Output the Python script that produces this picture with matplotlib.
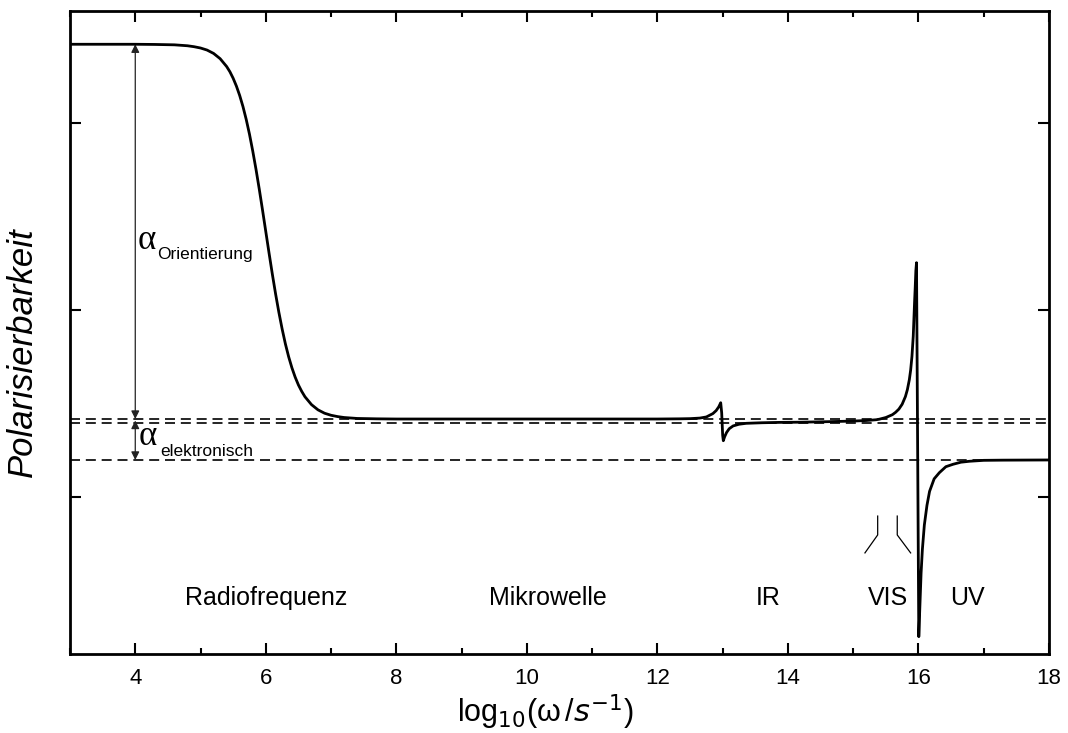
import matplotlib
matplotlib.use("Agg")
import matplotlib.pyplot as plt
from matplotlib.ticker import MultipleLocator

plt.rcParams['font.family'] = ['Liberation Sans', 'DejaVu Sans']

# Polarisability vs. log10 of angular frequency
log_omega = [3.0, 4.0, 4.3, 4.6, 4.8, 4.9, 5.0, 5.1, 5.2, 5.3, 5.4, 5.45,
             5.5, 5.55, 5.6, 5.65, 5.7, 5.75, 5.8, 5.85, 5.9, 5.95, 6.0,
             6.05, 6.1, 6.15, 6.2, 6.25, 6.3, 6.35, 6.4, 6.45, 6.5, 6.55,
             6.6, 6.7, 6.8, 6.9, 7.0, 7.1, 7.2, 7.4, 7.7, 8.0,
             10.0, 12.0, 12.34, 12.5, 12.65, 12.75, 12.85, 12.9, 12.94,
             12.97, 12.985, 13.0, 13.01, 13.03, 13.06, 13.1, 13.16, 13.25,
             13.36, 13.6, 13.87, 14.2, 14.64, 15.0, 15.2, 15.35, 15.4, 15.5,
             15.6, 15.65, 15.7, 15.75, 15.8, 15.83, 15.86, 15.88, 15.9,
             15.92, 15.94, 15.95, 15.96, 15.97,
             16.005, 16.02, 16.04, 16.06, 16.09, 16.13, 16.17, 16.24, 16.32,
             16.42, 16.53, 16.65, 16.78, 17.0, 17.29, 18.0]
polarisability = [3.421, 3.421, 3.420, 3.418, 3.413, 3.408, 3.401, 3.390,
                  3.372, 3.344, 3.302, 3.274, 3.239, 3.197, 3.147, 3.088,
                  3.019, 2.940, 2.850, 2.752, 2.646, 2.534, 2.419,
                  2.304, 2.192, 2.086, 1.988, 1.899, 1.819, 1.750, 1.691,
                  1.641, 1.599, 1.565, 1.536, 1.494, 1.466, 1.448, 1.437,
                  1.430, 1.425, 1.420, 1.418, 1.417,
                  1.417, 1.417, 1.418, 1.419, 1.422, 1.428, 1.446, 1.462,
                  1.482, 1.504, 1.450, 1.330, 1.301, 1.322, 1.345, 1.365,
                  1.380, 1.389, 1.394, 1.397, 1.399, 1.400, 1.403, 1.406,
                  1.409, 1.413, 1.416, 1.425, 1.440, 1.453, 1.470, 1.496,
                  1.537, 1.574, 1.627, 1.678, 1.751, 1.860, 2.040, 2.120,
                  2.210, 2.253,
                  0.253, 0.400, 0.592, 0.720, 0.850, 0.955, 1.030, 1.097,
                  1.130, 1.162, 1.175, 1.186, 1.191, 1.196, 1.197, 1.198]

# Reference levels (dashed)
levels = [1.417, 1.397, 1.198]

# Arrow spans for the two contributions
arrow_x = 4.0
orient_span = (3.421, 1.417)
elec_span = (1.409, 1.198)

# Spectral region labels
regions = ["Radiofrequenz", "Mikrowelle", "IR", "VIS", "UV"]
region_x = [6.0, 10.32, 13.69, 15.53, 16.75]
region_y = 0.46

# VIS bracket strokes
vis_left_x = [15.375, 15.375, 15.18]
vis_right_x = [15.675, 15.675, 15.88]
vis_y = [0.898, 0.797, 0.701]

fig = plt.figure(figsize=(10.68, 7.33), dpi=100)
ax = fig.add_axes([70/1068, 1-654/733, 979/1068, 643/733])

for lv in levels:
    ax.axhline(lv, color='black', lw=1.2, ls=(0, (6, 3.5)), zorder=1)

ax.plot(log_omega, polarisability, color='black', lw=2.0, zorder=3,
        solid_joinstyle='round')

for (y0, y1) in (orient_span, elec_span):
    ax.annotate('', xy=(arrow_x, y1), xytext=(arrow_x, y0),
                arrowprops=dict(arrowstyle='<|-|>', color='#222222', lw=0.9,
                                mutation_scale=12, shrinkA=0, shrinkB=0),
                zorder=2)

serif = ['Liberation Serif', 'DejaVu Serif']
ax.text(4.03, 2.374, 'α', fontsize=25, family=serif, ha='left', va='center')
ax.text(4.33, 2.273, 'Orientierung', fontsize=12.5, ha='left', va='baseline')
ax.text(4.05, 1.321, 'α', fontsize=25, family=serif, ha='left', va='center')
ax.text(4.38, 1.219, 'elektronisch', fontsize=12.5, ha='left', va='baseline')

for name, xr in zip(regions, region_x):
    ax.text(xr, region_y, name, fontsize=18, ha='center', va='center')

ax.plot(vis_left_x, vis_y, color='black', lw=0.9)
ax.plot(vis_right_x, vis_y, color='black', lw=0.9)

ax.set_xlim(3, 18)
ax.set_ylim(0.1604, 3.5989)
ax.xaxis.set_major_locator(MultipleLocator(2))
ax.xaxis.set_minor_locator(MultipleLocator(1))
ax.yaxis.set_major_locator(MultipleLocator(1))
ax.yaxis.set_minor_locator(MultipleLocator(1))
ax.set_yticklabels([])
ax.tick_params(axis='both', which='major', direction='in', length=8, width=1.5,
               top=True, right=True, labelsize=16)
ax.tick_params(axis='both', which='minor', direction='in', length=4, width=1.5,
               top=True, right=True)
ax.tick_params(axis='x', pad=10)
for s in ax.spines.values():
    s.set_linewidth(2)

fig.text(545/1068, 1-712/733, r'log$_{10}$(ω$\,$/$\mathit{s}^{-1}$)',
         fontsize=22, ha='center', va='center')
fig.text(22/1068, 1-352/733, 'Polarisierbarkeit', fontsize=25, style='italic',
         rotation=90, ha='center', va='center')

fig.savefig('out.png', dpi=100)
